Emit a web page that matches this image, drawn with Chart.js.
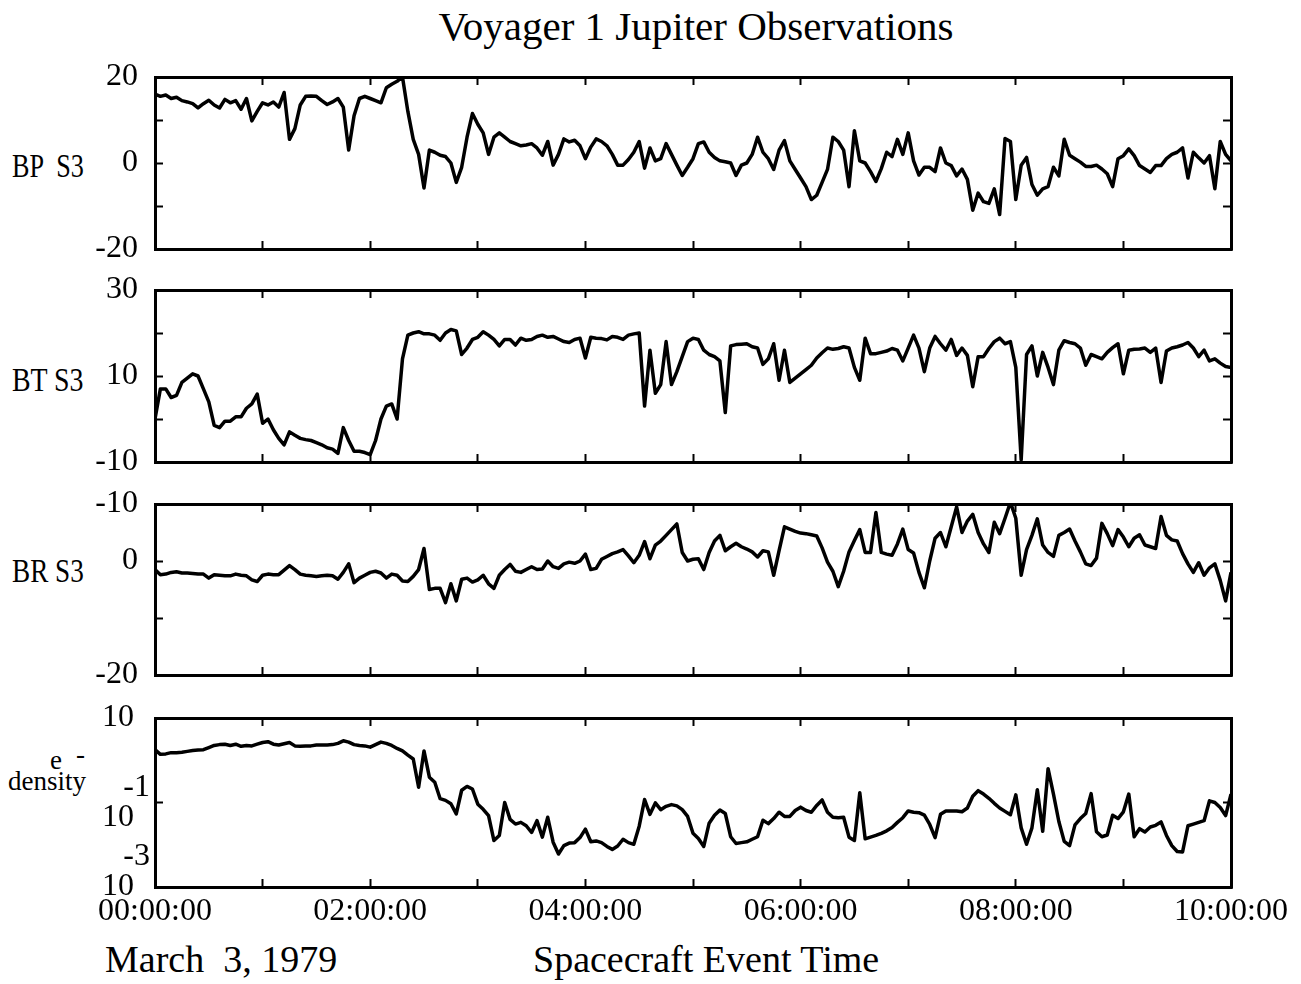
<!DOCTYPE html>
<html>
<head>
<meta charset="utf-8">
<script src="https://cdn.jsdelivr.net/npm/chart.js@4.4.0/dist/chart.umd.min.js"></script>
<style>
  body { margin: 0; background: #fff; }
  #page { position: relative; width: 1301px; height: 984px; overflow: hidden; font-family: "Liberation Serif", "Times New Roman", serif; color: #000; }
  #page canvas { position: absolute; left: 0; }
  .lbl { position: absolute; white-space: pre; line-height: 1; transform-origin: 0 0; }
</style>
</head>
<body>
<div id="page">
  <div class="lbl" style="left:200px; width:992px; text-align:center; top:6px; font-size:41px;">Voyager 1 Jupiter Observations</div>
  <div class="lbl" style="left:12px; top:149px; font-size:34px; transform:scaleX(0.77);">BP  S3</div>
  <div class="lbl" style="left:12px; top:363px; font-size:34px; transform:scaleX(0.82);">BT S3</div>
  <div class="lbl" style="left:12px; top:554px; font-size:34px; transform:scaleX(0.8);">BR S3</div>
  <div class="lbl" style="left:50px; top:747px; font-size:27px;">e</div>
  <div class="lbl" style="left:76px; top:741px; font-size:27px;">-</div>
  <div class="lbl" style="left:8px; top:768px; font-size:27px;">density</div>
  <div class="lbl" style="left:105px; top:940px; font-size:38px;">March  3, 1979</div>
  <div class="lbl" style="left:533px; top:940px; font-size:38px;">Spacecraft Event Time</div>

  <canvas id="bp"></canvas>
  <canvas id="bt"></canvas>
  <canvas id="br"></canvas>
  <canvas id="dens"></canvas>
</div>
<script>
// sample times, minutes after 00:00:00
const minutes = [
  0,3,6,9,12,15,18,21,24,27,30,33,36,39,42,45,48,51,54,57,
  60,63,66,69,72,75,78,81,84,87,90,93,96,99,102,105,108,111,114,117,
  120,123,126,129,132,135,138,141,144,147,150,153,156,159,162,165,168,171,174,177,
  180,183,186,189,192,195,198,201,204,207,210,213,216,219,222,225,228,231,234,237,
  240,243,246,249,252,255,258,261,264,267,270,273,276,279,282,285,288,291,294,297,
  300,303,306,309,312,315,318,321,324,327,330,333,336,339,342,345,348,351,354,357,
  360,363,366,369,372,375,378,381,384,387,390,393,396,399,402,405,408,411,414,417,
  420,423,426,429,432,435,438,441,444,447,450,453,456,459,462,465,468,471,474,477,
  480,483,486,489,492,495,498,501,504,507,510,513,516,519,522,525,528,531,534,537,
  540,543,546,549,552,555,558,561,564,567,570,573,576,579,582,585,588,591,594,597,
  600
];

const bpS3 = [
  16,15.5,15.8,15,15.3,14.5,14.2,13.8,12.8,13.8,14.6,13.5,12.8,14.8,14,14.5,12.5,15,9.8,12,
  14,13.5,14.2,13,16.4,5.5,8,13.5,15.5,15.6,15.5,14.5,13.6,14.2,15,13,3,11,15,15.5,
  15,14.5,14,17.5,18.3,19,20,12,5.5,2,-5.8,3,2.5,1.8,1.5,0,-4.5,-1,6,11.5,
  9,7,2,6,7,6,5,4.5,4,4.2,4.5,3.5,1.8,5,-0.5,2,5.6,4.9,5.3,4,
  1,3.7,5.6,5,4,2,-0.5,-0.5,0.8,2.5,5,-1.2,3.5,0.5,1,4.5,2,-0.5,-2.9,-1,
  1,4.5,4.9,2.5,1.3,0.5,0.3,0,-2.9,-0.5,0,2,6,2.5,1,-1.5,3,5.2,0.5,-1.5,
  -3.5,-5.5,-8.5,-7.5,-4.5,-1.5,6,5,3,-5.5,7.5,0.5,0,-2,-4.3,-1.3,2.5,1.5,5.5,2,
  7,0.5,-2.8,-1,-1,-2,3.5,0,-0.6,-3,-1.4,-3.8,-11,-7,-9,-9.4,-6,-12,5.7,5,
  -8.5,-0.5,1.3,-5,-7.5,-6,-5.5,-1,-3,5.5,1.8,1,0.2,-0.8,-0.8,-0.5,-1.4,-2.5,-5.5,1,
  1.7,3.3,1.7,-0.6,-1.4,-2.2,-0.6,-0.6,1,2,2.5,3.5,-3.5,2.5,1.2,0,1.7,-6,5,2,
  0.5
];

const btS3 = [
  0,7,7,5,5.5,8.5,9.5,10.5,10,7,4,-1.5,-2,-0.5,-0.5,0.5,0.5,2.5,3.5,5.8,
  -1,0,-2.5,-4.5,-6,-3,-3.8,-4.5,-4.8,-5,-5.5,-6,-6.7,-7,-8,-2,-5,-7.5,-7.5,-7.8,
  -8.3,-5,0,3,3.5,0,14,19.5,20,20.3,19.8,19.8,19.5,18.3,20,20.8,20.5,15,16.5,18.5,
  19,20.3,19.5,18.5,17,18.5,18.5,17.2,18.8,18.3,18.5,19.2,19.5,19,19.2,18.6,18,17.8,18.5,18.8,
  14.2,19,18.8,18.7,18.4,19.2,19,18.5,19.5,19.8,20,3,16,6,8,18,8,11,14.5,18,
  18.8,18.5,16,15,14.5,13.5,1.5,17,17.3,17.4,17.5,16.8,16.5,12.7,14,17.5,9,16,8.5,9.5,
  10.5,11.5,12.5,14.2,15.4,16.5,16.2,16.4,16.8,16.5,12,9,18.8,15.2,15.2,15.5,15.8,16.4,16,13.5,
  16.5,19.5,16.5,11,16.5,19.2,17.5,16,18.5,14.8,16.5,14.8,7.5,14.5,14.5,16.4,18,18.8,17.5,18,
  12,-9.5,15,17,10,15.5,12,8,16,18.2,17.8,17.5,16.5,12.5,15,14.5,14,15.5,16.6,17.5,
  10.5,16,16.2,16.3,16.5,15.5,16.5,8.5,15.8,16.5,16.8,17.2,17.8,16.5,14.5,16,13.5,14,13,12.2,
  12
];

const brS3 = [
  -1.5,-2.4,-2.3,-2,-1.9,-2.1,-2.1,-2.2,-2.3,-2.3,-3,-2.4,-2.5,-2.6,-2.6,-2.3,-2.5,-2.6,-3.3,-3.6,
  -2.5,-2.3,-2.4,-2.4,-1.6,-0.8,-1.5,-2.3,-2.5,-2.6,-2.7,-2.6,-2.5,-2.6,-3.2,-2,-0.5,-3.8,-3,-2.5,
  -2,-1.8,-2.1,-3,-2.3,-2.5,-3.5,-3.6,-2.7,-1.5,2.2,-5,-4.8,-4.8,-7.3,-4,-7,-3.2,-3,-3.7,
  -3.3,-2.5,-4,-4.8,-2.5,-1.5,-0.6,-1.8,-2,-1.5,-1,-1.5,-1.4,0,-1,-1.3,-0.5,-0.2,-0.4,0,
  1.2,-1.5,-1.3,0.3,0.8,1.3,1.6,2,0.9,-0.3,1,3.4,0.4,2.8,3.5,4.5,5.5,6.5,1.5,0,
  0.3,0.4,-1.5,1.5,3.5,4.5,1.8,2.5,3.1,2.5,2.1,1.6,0.7,1.8,1.6,-2.5,1.8,6,5.6,5.2,
  4.9,4.8,4.6,4.4,2.3,-0.2,-1.8,-4.5,-1.8,1.6,3.6,5.5,1.5,1.5,8.5,1.5,1.2,1,3,5.6,
  2,1.4,-2,-4.7,0,4,5,2.5,6,9.5,5,7,8.2,5,3,1.5,6.8,4.8,7.5,10.3,
  7.5,-2.5,2,4.5,7.4,2.8,1.5,0.8,4.5,5,5.6,3.5,1.6,-0.5,-0.8,0.5,6.6,4.8,2.7,5.5,
  4.2,2.5,4,4.6,2.8,2.5,2.2,7.8,4.5,3.7,3.5,1.3,-0.5,-2,-0.3,-2.5,-1.2,-0.5,-3.4,-7,
  -2
];

// log10 of the electron density
const densityExp = [
  0.25,0.14,0.15,0.18,0.18,0.19,0.21,0.23,0.24,0.25,0.3,0.35,0.37,0.38,0.35,0.38,0.33,0.35,0.34,0.38,
  0.42,0.44,0.38,0.36,0.39,0.42,0.34,0.33,0.34,0.34,0.36,0.36,0.36,0.37,0.4,0.46,0.43,0.37,0.35,0.34,
  0.31,0.37,0.43,0.4,0.35,0.28,0.22,0.12,0.03,-0.64,0.22,-0.4,-0.52,-0.91,-0.95,-1.03,-1.27,-0.71,-0.62,-0.68,
  -1.04,-1.16,-1.31,-1.9,-1.78,-1.0,-1.4,-1.51,-1.47,-1.55,-1.71,-1.43,-1.82,-1.35,-1.94,-2.22,-2.02,-1.96,-1.95,-1.83,
  -1.63,-1.93,-1.91,-1.95,-2.04,-2.11,-2.03,-1.87,-1.95,-1.99,-1.56,-0.93,-1.28,-1.01,-1.17,-1.09,-1.05,-1.08,-1.17,-1.33,
  -1.73,-1.85,-2.04,-1.49,-1.3,-1.18,-1.26,-1.81,-1.97,-1.95,-1.93,-1.87,-1.81,-1.42,-1.5,-1.38,-1.23,-1.33,-1.33,-1.19,
  -1.11,-1.19,-1.23,-1.07,-0.94,-1.23,-1.35,-1.36,-1.35,-1.82,-1.9,-0.77,-1.86,-1.82,-1.78,-1.73,-1.67,-1.59,-1.47,-1.36,
  -1.2,-1.23,-1.24,-1.3,-1.52,-1.83,-1.28,-1.2,-1.2,-1.2,-1.22,-1.13,-0.85,-0.72,-0.8,-0.9,-1.02,-1.13,-1.21,-1.29,
  -0.82,-1.6,-1.99,-1.6,-0.7,-1.68,-0.2,-0.8,-1.45,-1.92,-2.02,-1.53,-1.38,-1.26,-0.79,-1.69,-1.81,-1.77,-1.3,-1.38,
  -1.22,-0.8,-1.81,-1.62,-1.7,-1.58,-1.54,-1.46,-1.78,-2.02,-2.16,-2.17,-1.55,-1.51,-1.47,-1.43,-0.96,-1.0,-1.12,-1.31,
  -0.8
];

const bpTickValues = [20, 0, -20];
const bpTickText = ['20', '0', '-20'];
const btTickValues = [30, 10, -10];
const btTickText = ['30', '10', '-10'];
const brTickValues = [10, 0, -20];
const brTickText = ['-10', '0', '-20'];
const densityTickValues = [10, 0.1, 0.001];
const densityTickText = ['10  ', ['-1', '10  '], ['-3', '10  ', '']];
const hourTickValues = [0, 120, 240, 360, 480, 600];
const hourTickText = ['00:00:00', '02:00:00', '04:00:00', '06:00:00', '08:00:00', '10:00:00'];

Chart.defaults.font.family = '"Liberation Serif", "Times New Roman", serif';
Chart.defaults.color = '#000';

const LEFT = 155, RIGHT = 70, PAD = 20;
const frame = { display: true, width: 3, color: '#000' };

function marks() {
	// short tick marks pointing into the box
	return { display: true, drawOnChartArea: false, drawTicks: true, tickLength: -8, tickWidth: 2, color: '#000' };
}

function lookup(values, texts) {
	return v => {
		const i = values.findIndex(t => Math.abs(t - v) <= Math.abs(t) * 1e-6 + 1e-12);
		return i < 0 ? '' : texts[i];
	};
}

function panel(id, top, bottom, below, y, series, showTime) {
	const canvas = document.getElementById(id);
	canvas.width = 1301;
	canvas.height = PAD + (bottom - top) + below;
	canvas.style.top = (top - PAD) + 'px';

	const yAxis = side => {
		const s = {
			type: y.type, min: y.min, max: y.max, position: side,
			border: frame, grid: marks(),
			ticks: {
				display: side === 'left', autoSkip: false, stepSize: y.step, padding: y.pad,
				font: { size: 32, lineHeight: y.lh || 1.2 },
				callback: lookup(y.values, y.texts)
			},
			afterFit: sc => {
				sc.width = side === 'left' ? LEFT : RIGHT;
				// keep the box where it is, labels may overhang
				sc.paddingTop = 0;
				sc.paddingBottom = 0;
			}
		};
		if (y.at) s.afterBuildTicks = sc => { sc.ticks = y.at.map(v => ({ value: v })); };
		return s;
	};
	const xAxis = side => ({
		type: 'linear', min: 0, max: 600, position: side,
		border: frame, grid: marks(),
		ticks: {
			display: side === 'bottom' && showTime, stepSize: 60, autoSkip: false,
			maxRotation: 0, minRotation: 0, padding: 13, font: { size: 32 },
			callback: lookup(hourTickValues, hourTickText)
		},
		afterFit: sc => {
			sc.height = side === 'bottom' ? below : 0;
			sc.paddingLeft = 0;
			sc.paddingRight = 0;
		}
	});

	return new Chart(canvas, {
		type: 'line',
		data: {
			datasets: [{
				data: minutes.map((m, i) => ({ x: m, y: series[i] })),
				borderColor: '#000', borderWidth: 3.5, pointRadius: 0, tension: 0,
				borderJoinStyle: 'round', xAxisID: 'x', yAxisID: 'y'
			}]
		},
		options: {
			responsive: false, animation: false,
			layout: { padding: { top: PAD, left: 0, right: 0, bottom: 0 } },
			plugins: { legend: { display: false }, tooltip: { enabled: false } },
			scales: { x: xAxis('bottom'), xTop: xAxis('top'), y: yAxis('left'), yRight: yAxis('right') }
		}
	});
}

panel('bp', 77, 249, 26, { type: 'linear', min: -20, max: 20, step: 10, pad: 25, values: bpTickValues, texts: bpTickText }, bpS3, false);
panel('bt', 290, 462, 26, { type: 'linear', min: -10, max: 30, step: 10, pad: 25, values: btTickValues, texts: btTickText }, btS3, false);
panel('br', 504, 675, 26, { type: 'linear', min: -20, max: 10, step: 10, pad: 25, values: brTickValues, texts: brTickText }, brS3, false);
panel('dens', 718, 887, 60, { type: 'logarithmic', min: 0.001, max: 10, pad: 13, lh: 0.95, at: densityTickValues, values: densityTickValues, texts: densityTickText },
	densityExp.map(e => 10 ** e), true);
</script>
</body>
</html>
